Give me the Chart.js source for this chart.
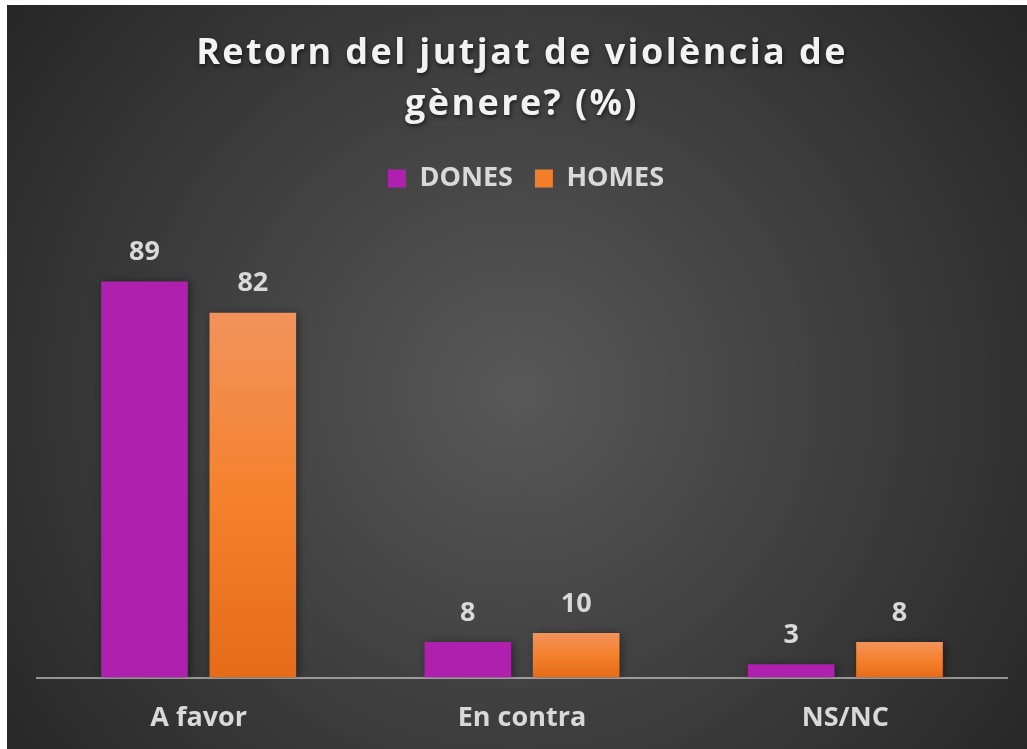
<!DOCTYPE html>
<html>
<head>
<meta charset="utf-8">
<script src="https://cdn.jsdelivr.net/npm/chart.js@4/dist/chart.umd.min.js"></script>
<style>
  html, body { margin: 0; padding: 0; background: #ffffff; }
  #wrap { position: absolute; left: 7px; top: 5px; width: 1020px; height: 744px; }
  canvas { display: block; }
</style>
</head>
<body>
<div id="wrap"><canvas id="c" width="1020" height="744"></canvas></div>
<script>
const titleLines = ['Retorn del jutjat de violència de', 'gènere? (%)'];
const categories = ['A favor', 'En contra', 'NS/NC'];
const seriesNames = ['DONES', 'HOMES'];
const dones = [89, 8, 3];
const homes = [82, 10, 8];

const FONT = "'Open Sans', 'DejaVu Sans', sans-serif";
const TEXT = '#d9d9d9';
const PURPLE = '#B020AF';

function orangeFill(c) {
  const ch = c.chart;
  const ys = ch.scales && ch.scales.y;
  if (c.type !== 'data' || !ys || !ch.chartArea) return '#F27E2C';
  const top = ys.getPixelForValue(c.raw);
  const bot = ys.getPixelForValue(0);
  if (!isFinite(top) || !isFinite(bot) || top === bot) return '#F27E2C';
  const g = ch.ctx.createLinearGradient(0, top, 0, bot);
  g.addColorStop(0, '#F2935C');
  g.addColorStop(0.5, '#F5812D');
  g.addColorStop(1, '#E56B17');
  return g;
}

const bgPlugin = {
  id: 'bg',
  beforeDraw(chart) {
    const { ctx, width, height } = chart;
    ctx.save();
    const cx = width * 0.5, cy = height * 0.52;
    const r = Math.sqrt(cx * cx + cy * cy);
    const g = ctx.createRadialGradient(cx, cy, 0, cx, cy, r);
    g.addColorStop(0, '#585858');
    g.addColorStop(1, '#262626');
    ctx.fillStyle = g;
    ctx.fillRect(0, 0, width, height);
    ctx.restore();
  }
};

const titlePatch = {
  id: 'titlePatch',
  beforeUpdate(chart) {
    const tb = chart.titleBlock;
    if (tb && !tb._patched) {
      const orig = tb.draw;
      tb.draw = function () {
        const c = this.ctx;
        c.save();
        c.letterSpacing = '2.4px';
        c.shadowColor = 'rgba(0,0,0,0.6)';
        c.shadowBlur = 4;
        c.shadowOffsetX = 1;
        c.shadowOffsetY = 2;
        orig.apply(this, arguments);
        c.restore();
      };
      tb._patched = true;
    }
  }
};

const legendAdjust = {
  id: 'legendAdjust',
  beforeInit(chart) {
    const lg = chart.legend;
    if (lg) {
      const fit = lg.fit;
      lg.fit = function () {
        fit.apply(this, arguments);
        this.height += 30.5;
      };
    }
  },
  afterLayout(chart) {
    const lg = chart.legend;
    if (lg) {
      lg.left += 4;
      lg.right += 4;
    }
  }
};

const shadowPlugin = {
  id: 'barShadow',
  beforeDatasetsDraw(chart) {
    const c = chart.ctx;
    c.save();
    c.shadowColor = 'rgba(0,0,0,0.45)';
    c.shadowBlur = 8;
    c.shadowOffsetX = 2;
    c.shadowOffsetY = 1;
  },
  afterDatasetsDraw(chart) {
    const c = chart.ctx;
    c.restore();
    c.save();
    c.font = 'bold 27px ' + FONT;
    c.fillStyle = TEXT;
    c.textAlign = 'center';
    c.textBaseline = 'middle';
    chart.data.datasets.forEach((ds, i) => {
      const meta = chart.getDatasetMeta(i);
      meta.data.forEach((el, j) => {
        c.fillText(String(ds.data[j]), el.x, el.y - 29);
      });
    });
    c.restore();
  }
};

const chart = new Chart(document.getElementById('c'), {
  type: 'bar',
  data: {
    labels: categories,
    datasets: [
      { label: seriesNames[0], data: dones, backgroundColor: PURPLE, borderWidth: 0 },
      { label: seriesNames[1], data: homes, backgroundColor: orangeFill, borderWidth: 0 }
    ]
  },
  options: {
    responsive: false,
    devicePixelRatio: 1,
    animation: false,
    events: [],
    categoryPercentage: 0.67,
    barPercentage: 0.8,
    layout: { padding: { left: 30, right: 20, top: 0, bottom: -11 } },
    plugins: {
      title: {
        display: true,
        text: titleLines,
        color: '#f2f2f2',
        font: { family: FONT, size: 36, weight: 'bold', lineHeight: 1.417 },
        padding: { top: 23.3, bottom: 12.7 }
      },
      legend: {
        display: true,
        position: 'top',
        labels: {
          color: TEXT,
          font: { family: FONT, size: 27, weight: 'bold' },
          boxWidth: 18,
          boxHeight: 18,
          padding: 22,
          generateLabels(chart) {
            const cols = [PURPLE, '#F27E2C'];
            return chart.data.datasets.map((ds, i) => ({
              text: ds.label,
              fillStyle: cols[i],
              strokeStyle: cols[i],
              lineWidth: 0,
              fontColor: TEXT,
              hidden: false,
              datasetIndex: i
            }));
          }
        }
      },
      tooltip: { enabled: false }
    },
    scales: {
      x: {
        z: 1,
        grid: { display: false, drawTicks: false },
        border: { display: true, color: 'rgba(217,217,217,0.6)', width: 2 },
        ticks: { color: TEXT, font: { family: FONT, size: 27, weight: 'bold' }, padding: 25 }
      },
      y: {
        display: false,
        min: 0,
        max: 100
      }
    }
  },
  plugins: [bgPlugin, titlePatch, legendAdjust, shadowPlugin]
});
chart.draw();
</script>
</body>
</html>
